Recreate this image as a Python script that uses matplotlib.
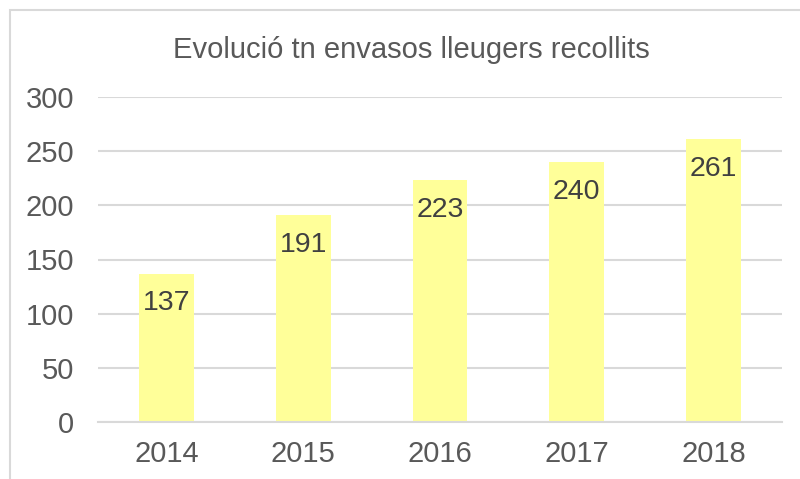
import matplotlib.pyplot as plt
from matplotlib.patches import Rectangle

# data
years = ['2014', '2015', '2016', '2017', '2018']
tones = [137, 191, 223, 240, 261]
yticks = [0, 50, 100, 150, 200, 250, 300]

plt.rcParams['font.family'] = ['Liberation Sans', 'DejaVu Sans']

fig = plt.figure(figsize=(8, 4.79), dpi=100)
ax = fig.add_axes([98/800, 1 - 422/479, 684/800, 325/479])

# chart border (light grey frame)
fig.patches.append(Rectangle((10/800, -0.05), 1.0, 1 - 10/479 + 0.05,
                             transform=fig.transFigure, fill=False,
                             edgecolor='#D9D9D9', linewidth=1.5))

x = range(len(years))
ax.bar(x, tones, width=0.4, color='#FFFF99', zorder=2)
for i, v in zip(x, tones):
    ax.annotate(str(v), (i, v), xytext=(0, -12), textcoords='offset points',
                ha='center', va='top', fontsize=20.5, color='#404040', zorder=3)

ax.set_ylim(0, 300)
ax.set_xlim(-0.5, len(years) - 0.5)
ax.set_yticks(yticks)
ax.set_xticks(list(x))
ax.set_xticklabels(years)
ax.grid(axis='y', color='#D9D9D9', linewidth=1.5, zorder=0)
for s in ['top', 'right', 'left']:
    ax.spines[s].set_visible(False)
ax.spines['bottom'].set_color('#D9D9D9')
ax.spines['bottom'].set_linewidth(1.5)
ax.tick_params(length=0, labelsize=21, labelcolor='#595959')
ax.tick_params(axis='y', pad=17)
ax.tick_params(axis='x', pad=13)

fig.text(411/800, 1 - 50/479, 'Evolució tn envasos lleugers recollits',
         ha='center', va='center', fontsize=21, color='#595959')

fig.savefig('out.png', dpi=100)
